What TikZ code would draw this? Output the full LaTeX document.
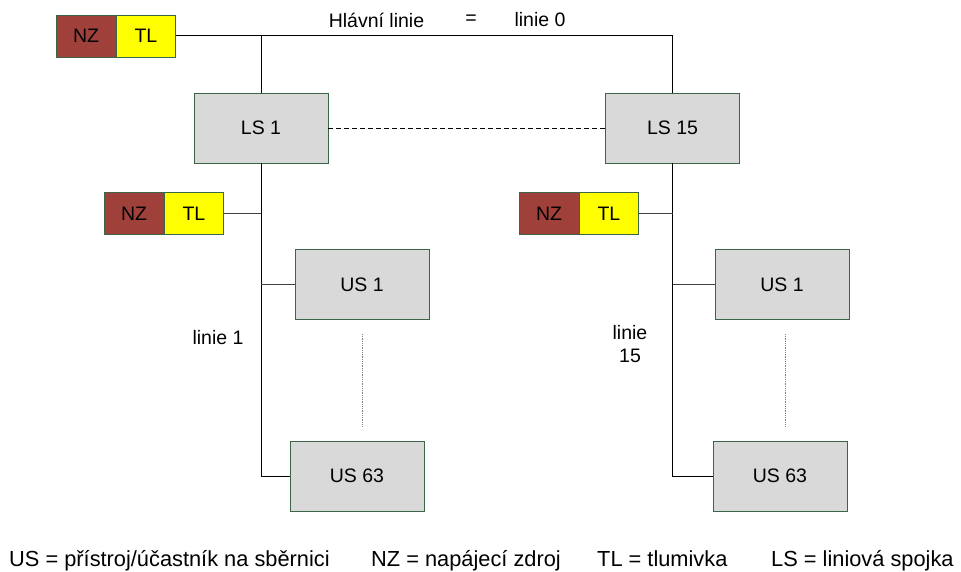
\documentclass[tikz,border=0pt]{standalone}
\usepackage{fontspec}
\setmainfont{Liberation Sans}
\definecolor{nzc}{HTML}{A0403A}
\definecolor{tlc}{HTML}{FFFF00}
\definecolor{bord}{HTML}{3C6446}
\definecolor{boxg}{HTML}{D9D9D9}
\begin{document}
\begin{tikzpicture}[x=1pt,y=-1pt,
  lsbox/.style={draw=bord,fill=boxg,minimum width=134pt,minimum height=70pt,inner sep=0pt,font=\fontsize{19.5}{22}\selectfont},
  nzbox/.style={draw=bord,fill=nzc,minimum width=60pt,minimum height=42pt,inner sep=0pt,font=\fontsize{19.5}{22}\selectfont},
  tlbox/.style={draw=bord,fill=tlc,minimum width=59pt,minimum height=42pt,inner sep=0pt,font=\fontsize{19.5}{22}\selectfont},
  bus/.style={draw=black,line width=1pt},
  branch/.style={draw=black!75,line width=1pt},
  lbl/.style={font=\fontsize{19.5}{23}\selectfont,inner sep=0pt},
  leg/.style={font=\fontsize{21.8}{24}\selectfont,inner sep=0pt,anchor=base west}]
\useasboundingbox (0,0) rectangle (961,572);
% top
\node[nzbox] (nz0) at (86,36) {NZ};
\node[tlbox,anchor=west] (tl0) at (nz0.east) {TL};
\node[lsbox] (ls1) at (261,128) {LS 1};
\node[lsbox] (ls15) at (672.5,128) {LS 15};
\coordinate (j0) at (261,36);
\coordinate (c15) at (672.5,36);
\draw[bus] (tl0.east) -- (c15) -- (ls15.north);
\draw[bus] (j0) -- (ls1.north);
\draw[dash pattern=on 5pt off 3pt,line width=0.8pt] (ls1.east) -- (ls15.west);
\node[lbl] (hl) at (376.5,20) {Hlávní linie};
\node[lbl] (eq) at (471,20) {=};
\node[lbl] (l0) at (540,20) {linie 0};
% left line
\node[nzbox] (nz1) at (134,213.5) {NZ};
\node[tlbox,anchor=west] (tl1) at (nz1.east) {TL};
\node[lsbox] (us1a) at (362,284.5) {US 1};
\node[lsbox] (us63a) at (357,476) {US 63};
\coordinate (b1) at (261,476);
\draw[bus] (ls1.south) -- (b1) -- (us63a.west);
\draw[branch] (tl1.east) -- (tl1.east -| b1);
\draw[branch] (us1a.west -| b1) -- (us1a.west);
\coordinate (d1a) at (362,334);
\coordinate (d1b) at (362,426);
\draw[densely dotted,black!50,line width=0.8pt] (d1a) -- (d1b);
\node[lbl] (lin1) at (218,338) {linie 1};
% right line
\node[nzbox] (nz2) at (549,213.5) {NZ};
\node[tlbox,anchor=west] (tl2) at (nz2.east) {TL};
\node[lsbox] (us1b) at (782,284.5) {US 1};
\node[lsbox] (us63b) at (780,476) {US 63};
\coordinate (b2) at (672.5,476);
\draw[bus] (ls15.south) -- (b2) -- (us63b.west);
\draw[branch] (tl2.east) -- (tl2.east -| b2);
\draw[branch] (us1b.west -| b2) -- (us1b.west);
\coordinate (d2a) at (785,334);
\coordinate (d2b) at (785,426);
\draw[densely dotted,black!50,line width=0.8pt] (d2a) -- (d2b);
\node[lbl,align=center] (lin15) at (630,344) {linie\\15};
% legend
\node[leg] (lg1) at (9,566) {US = přístroj/účastník na sběrnici};
\node[leg] (lg2) at (371,566) {NZ = napájecí zdroj};
\node[leg] (lg3) at (597,566) {TL = tlumivka};
\node[leg] (lg4) at (771,566) {LS = liniová spojka};
\end{tikzpicture}
\end{document}
